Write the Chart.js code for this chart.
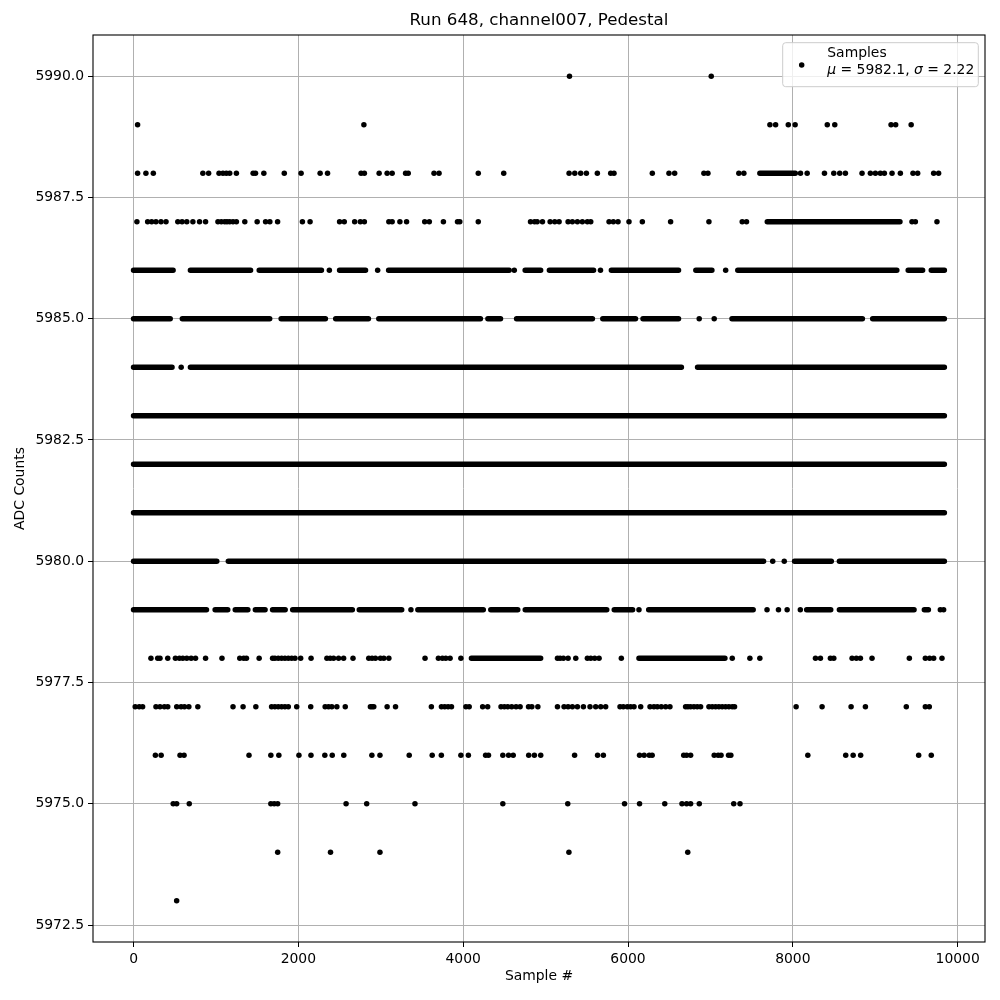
<!DOCTYPE html>
<html><head><meta charset="utf-8">
<script src="https://cdn.jsdelivr.net/npm/chart.js@4.4.1/dist/chart.umd.min.js"></script>
<style>html,body{margin:0;padding:0;background:#fff}#wrap{width:1000px;height:1000px}</style>
</head><body><div id="wrap"><canvas id="c" width="1000" height="1000"></canvas></div>
<script>
// ---- data (x = sample #, one array per ADC level) ----
const title = 'Run 648, channel007, Pedestal';
const xLabel = 'Sample #';
const yLabel = 'ADC Counts';
const legendName = 'Samples';
const meanVal = '5982.1';
const sigmaVal = '2.22';
const xTicks = [0, 2000, 4000, 6000, 8000, 10000];
const yTicks = [5972.5, 5975, 5977.5, 5980, 5982.5, 5985, 5987.5, 5990];

// isolated samples
const pts5990 = [5290, 7010];
const pts5989 = [49, 2795, 7722, 7791, 7945, 8028, 8418, 8509, 9192, 9248, 9436];
const pts5988 = [49,150,240,841,911,1037,1085,1126,1167,1248,1451,1480,1581,1829,2033,2264,2354,2761,2801,2980,3077,3138,3301,3333,3646,3707,4183,4492,5285,5354,5426,5495,5628,5790,5830,6295,6497,6566,6921,6970,7345,7406,8093,8174,8384,8497,8569,8638,8840,8941,9002,9062,9111,9204,9305,9458,9515,9709,9769];
const pts5987 = [41,171,220,272,333,394,537,589,646,720,801,874,1024,1065,1106,1134,1167,1207,1248,1350,1500,1602,1654,1748,2049,2142,2500,2557,2683,2752,2801,3098,3138,3232,3313,3533,3589,3760,3931,3959,4183,4817,4866,4898,4962,5055,5111,5164,5273,5325,5386,5446,5507,5548,5770,5822,5879,6012,6174,6517,6982,7386,7438,9446,9487,9749];
const pts5986 = [2376, 2962, 4620, 5666, 7185];
const pts5985 = [6864, 7046];
const pts5984 = [578];
const pts5983 = [];
const pts5982 = [];
const pts5981 = [];
const pts5980 = [7756, 7896];
const pts5979 = [3366, 6133, 7687, 7826, 7931, 8091, 9790, 9830];
const pts5978 = [211,293,321,415,508,557,598,646,699,752,874,1073,1289,1337,1370,1524,1687,1715,1756,1797,1837,1878,1919,1959,2028,2154,2346,2386,2427,2488,2549,2663,2854,2894,2935,2996,3037,3098,3537,3699,3748,3789,3841,3972,5144,5176,5216,5273,5366,5507,5548,5596,5649,5919,7265,7479,7600,8275,8335,8456,8497,8719,8771,8820,8961,9414,9608,9660,9709,9810];
const pts5977 = [20,69,110,272,321,374,415,524,577,618,671,780,1207,1329,1484,1675,1715,1756,1797,1837,1878,1980,2150,2325,2366,2406,2467,2569,2874,2894,2915,3077,3179,3614,3736,3776,3817,3858,4033,4073,4236,4297,4459,4500,4541,4589,4642,4691,4793,4833,4906,5144,5224,5273,5325,5386,5459,5539,5608,5669,5729,5903,5943,5992,6032,6073,6154,6267,6315,6356,6404,6457,6509,6699,6727,6760,6800,6840,6881,6982,7022,7063,7103,7143,7184,7224,7265,7293,8040,8355,8707,8881,9377,9608,9656];
const pts5976 = [265,335,564,613,1401,1666,1763,2007,2153,2321,2411,2551,2892,2990,3345,3624,3735,3972,4063,4272,4307,4481,4551,4607,4795,4864,4941,5352,5631,5701,6140,6196,6258,6293,6676,6711,6760,7046,7094,7129,7220,7248,8182,8642,8732,8823,9527,9680];
const pts5975 = [481,523,676,1666,1707,1749,2579,2829,3415,4481,5269,5958,6140,6446,6655,6711,6760,6865,7283,7359];
const pts5974 = [1749, 2390, 2990, 5283, 6725];
const pts5973 = [523];

// stretches where samples are so dense they merge: [first, last] sample #
const runs5988 = [[7600, 8030]];
const runs5987 = [[7690, 9300]];
const runs5986 = [[0,480],[690,1420],[1525,2280],[2500,2815],[3095,4558],[4752,4940],[5046,5582],[5798,6613],[6823,7018],[7332,9262],[9400,9575],[9680,9839]];
const runs5985 = [[0,445],[592,1652],[1791,2328],[2453,2850],[2976,4209],[4300,4453],[4648,5568],[5694,6091],[6182,6613],[7262,8844],[8969,9839]];
const runs5984 = [[0,467],[690,6648],[6844,9839]];
const runs5983 = [[0,9839]];
const runs5982 = [[0,9839]];
const runs5981 = [[0,9839]];
const runs5980 = [[0,1010],[1150,7645],[8021,8467],[8565,9839]];
const runs5979 = [[0,885],[990,1143],[1234,1387],[1478,1596],[1687,1840],[1931,2655],[2739,3254],[3450,4244],[4335,4662],[4753,5742],[5833,6056],[6251,7519],[8168,8460],[8565,9471],[9596,9645]];
const runs5978 = [[4100,4940],[6133,7176]];

const levels = [5973,5974,5975,5976,5977,5978,5979,5980,5981,5982,5983,5984,5985,5986,5987,5988,5989,5990];
const ptsByLevel = {5973:pts5973,5974:pts5974,5975:pts5975,5976:pts5976,5977:pts5977,5978:pts5978,5979:pts5979,5980:pts5980,5981:pts5981,5982:pts5982,5983:pts5983,5984:pts5984,5985:pts5985,5986:pts5986,5987:pts5987,5988:pts5988,5989:pts5989,5990:pts5990};
const runsByLevel = {5978:runs5978,5979:runs5979,5980:runs5980,5981:runs5981,5982:runs5982,5983:runs5983,5984:runs5984,5985:runs5985,5986:runs5986,5987:runs5987,5988:runs5988};

// ---- build datasets ----
const scatterData = [];
const runData = [];
levels.forEach(L => {
  (ptsByLevel[L] || []).forEach(x => scatterData.push({x: x, y: L}));
  (runsByLevel[L] || []).forEach(r => {
    runData.push({x: r[0], y: L});
    runData.push({x: r[1], y: L});
    runData.push({x: r[1], y: null});
  });
});

const FONT = '"DejaVu Sans", "Liberation Sans", sans-serif';
Chart.defaults.font.family = FONT;
Chart.defaults.font.size = 13.9;
Chart.defaults.color = '#000';

const overlay = {
  id: 'overlay',
  afterDatasetsDraw(chart) {
    const {ctx, chartArea: a} = chart;
    ctx.save();
    // axes frame
    ctx.strokeStyle = '#000';
    ctx.lineWidth = 1.1;
    ctx.strokeRect(a.left, a.top, a.right - a.left, a.bottom - a.top);
    // legend box
    const bx = a.right - 202.3, by = a.top + 7.7, bw = 195.6, bh = 44, r = 3;
    ctx.beginPath();
    ctx.moveTo(bx + r, by);
    ctx.lineTo(bx + bw - r, by);
    ctx.quadraticCurveTo(bx + bw, by, bx + bw, by + r);
    ctx.lineTo(bx + bw, by + bh - r);
    ctx.quadraticCurveTo(bx + bw, by + bh, bx + bw - r, by + bh);
    ctx.lineTo(bx + r, by + bh);
    ctx.quadraticCurveTo(bx, by + bh, bx, by + bh - r);
    ctx.lineTo(bx, by + r);
    ctx.quadraticCurveTo(bx, by, bx + r, by);
    ctx.closePath();
    ctx.fillStyle = 'rgba(255,255,255,0.8)';
    ctx.fill();
    ctx.strokeStyle = '#cccccc';
    ctx.lineWidth = 1;
    ctx.stroke();
    // legend marker
    ctx.fillStyle = '#000';
    ctx.beginPath();
    ctx.arc(bx + 19, by + 22.3, 2.75, 0, Math.PI * 2);
    ctx.fill();
    // legend text
    ctx.textBaseline = 'middle';
    ctx.textAlign = 'left';
    const tx = bx + 44.6;
    ctx.font = '13.9px ' + FONT;
    ctx.fillText(legendName, tx, by + 11);
    let x = tx;
    const y2 = by + 28;
    const parts = [['italic', 'μ'], ['normal', ' = ' + meanVal + ', '], ['italic', 'σ'], ['normal', ' = ' + sigmaVal]];
    parts.forEach(p => {
      ctx.font = (p[0] === 'italic' ? 'italic ' : '') + '13.9px ' + FONT;
      ctx.fillText(p[1], x, y2);
      x += ctx.measureText(p[1]).width;
    });
    ctx.restore();
  },
  afterDraw(chart) {
    const {ctx, chartArea: a} = chart;
    ctx.save();
    ctx.fillStyle = '#000';
    ctx.font = '16.7px ' + FONT;
    ctx.textAlign = 'center';
    ctx.textBaseline = 'middle';
    ctx.fillText(title, (a.left + a.right) / 2, 21);
    ctx.restore();
  }
};

new Chart(document.getElementById('c'), {
  type: 'scatter',
  data: {
    datasets: [
      {
        label: legendName,
        data: scatterData,
        pointRadius: 2.75,
        pointHoverRadius: 2.75,
        pointBorderWidth: 0,
        backgroundColor: '#000',
        borderColor: '#000',
        showLine: false
      },
      {
        label: 'dense',
        data: runData,
        showLine: true,
        spanGaps: false,
        pointRadius: 0,
        pointHoverRadius: 0,
        borderColor: '#000',
        borderWidth: 5.5,
        borderCapStyle: 'round',
        fill: false
      }
    ]
  },
  options: {
    responsive: false,
    devicePixelRatio: 1,
    animation: false,
    events: [],
    layout: { padding: { left: 0, top: 35, right: 15, bottom: 0 } },
    plugins: {
      legend: { display: false },
      title: { display: false },
      tooltip: { enabled: false }
    },
    scales: {
      x: {
        type: 'linear',
        min: -492,
        max: 10332,
        afterBuildTicks: s => { s.ticks = xTicks.map(v => ({value: v})); },
        afterFit: s => { s.height = 58; s.paddingLeft = 0; s.paddingRight = 0; },
        ticks: { callback: v => String(v), padding: 4, maxRotation: 0, autoSkip: false, color: '#000' },
        grid: { color: '#b0b0b0', lineWidth: 1, tickColor: '#000', tickLength: 5, tickWidth: 1 },
        border: { display: false },
        title: { display: true, text: xLabel, color: '#000', padding: { top: 0, bottom: 15.7 } }
      },
      y: {
        type: 'linear',
        min: 5972.15,
        max: 5990.85,
        afterBuildTicks: s => { s.ticks = yTicks.map(v => ({value: v})); },
        afterFit: s => { s.width = 93; s.paddingTop = 0; s.paddingBottom = 0; },
        ticks: { callback: v => Number(v).toFixed(1), padding: 4, autoSkip: false, color: '#000' },
        grid: { color: '#b0b0b0', lineWidth: 1, tickColor: '#000', tickLength: 5, tickWidth: 1 },
        border: { display: false },
        title: { display: true, text: yLabel, color: '#000', padding: { top: 12, bottom: 0 } }
      }
    }
  },
  plugins: [overlay]
});
</script></body></html>
